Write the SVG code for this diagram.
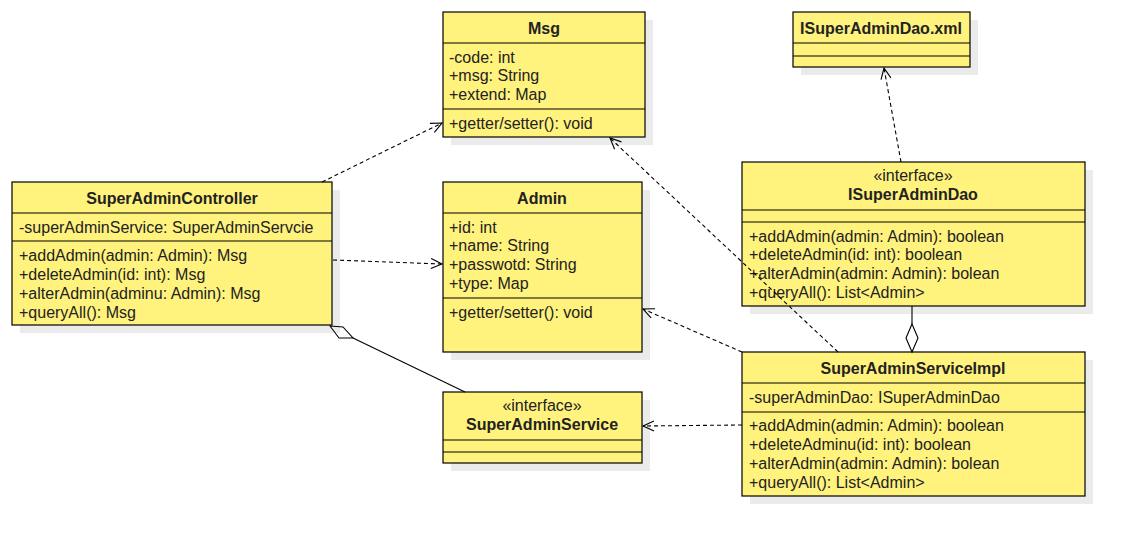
<svg xmlns="http://www.w3.org/2000/svg" width="1133" height="546" viewBox="0 0 1133 546">
<style>
.box{fill:#fff27d;stroke:#000;stroke-width:1.2}
.sh{fill:#ebebeb}
.ln{stroke:#000;stroke-width:1.2;fill:none}
.t{font-family:"Liberation Sans",Arial,sans-serif;font-size:16px;fill:#222}
.b{font-weight:bold;text-anchor:middle}
.c{text-anchor:middle}
.d{stroke:#000;stroke-width:1.1;fill:none;stroke-dasharray:4,3}
.s{stroke:#000;stroke-width:1.1;fill:none}
</style>
<defs>
<marker id="open" markerWidth="14" markerHeight="14" refX="12" refY="6" orient="auto" markerUnits="userSpaceOnUse">
<path d="M1,1 L12,6 L1,11" fill="none" stroke="#000" stroke-width="1.1"/>
</marker>
</defs>
<rect width="1133" height="546" fill="#fff"/>

<g id="SuperAdminController">
<rect class="sh" x="20" y="190" width="320" height="143"/>
<rect class="box" x="12" y="182" width="320" height="143"/>
<line class="ln" x1="12" y1="213" x2="332" y2="213"/>
<line class="ln" x1="12" y1="241" x2="332" y2="241"/>
<text class="t b" x="172" y="204">SuperAdminController</text>
<text class="t" x="19" y="233">-superAdminService: SuperAdminServcie</text>
<text class="t" x="19" y="261">+addAdmin(admin: Admin): Msg</text>
<text class="t" x="19" y="280">+deleteAdmin(id: int): Msg</text>
<text class="t" x="19" y="299">+alterAdmin(adminu: Admin): Msg</text>
<text class="t" x="19" y="318">+queryAll(): Msg</text>
</g>

<g id="Msg">
<rect class="sh" x="451" y="20" width="202" height="125"/>
<rect class="box" x="443" y="12" width="202" height="125"/>
<line class="ln" x1="443" y1="43" x2="645" y2="43"/>
<line class="ln" x1="443" y1="109" x2="645" y2="109"/>
<text class="t b" x="544" y="34">Msg</text>
<text class="t" x="449" y="63">-code: int</text>
<text class="t" x="449" y="81">+msg: String</text>
<text class="t" x="449" y="100">+extend: Map</text>
<text class="t" x="449" y="129">+getter/setter(): void</text>
</g>

<g id="Admin">
<rect class="sh" x="451" y="190" width="199" height="170"/>
<rect class="box" x="443" y="182" width="199" height="170"/>
<line class="ln" x1="443" y1="213" x2="642" y2="213"/>
<line class="ln" x1="443" y1="298" x2="642" y2="298"/>
<text class="t b" x="542" y="204">Admin</text>
<text class="t" x="449" y="233">+id: int</text>
<text class="t" x="449" y="251">+name: String</text>
<text class="t" x="449" y="270">+passwotd: String</text>
<text class="t" x="449" y="289">+type: Map</text>
<text class="t" x="449" y="318">+getter/setter(): void</text>
</g>

<g id="SuperAdminService">
<rect class="sh" x="451" y="400" width="199" height="71"/>
<rect class="box" x="443" y="392" width="199" height="71"/>
<line class="ln" x1="443" y1="440" x2="642" y2="440"/>
<line class="ln" x1="443" y1="452" x2="642" y2="452"/>
<text class="t c" x="542" y="411">«interface»</text>
<text class="t b" x="542" y="430">SuperAdminService</text>
</g>

<g id="ISuperAdminDaoXml">
<rect class="sh" x="801" y="20" width="177" height="55"/>
<rect class="box" x="793" y="12" width="177" height="55"/>
<line class="ln" x1="793" y1="43" x2="970" y2="43"/>
<line class="ln" x1="793" y1="56" x2="970" y2="56"/>
<text class="t b" x="881" y="34">ISuperAdminDao.xml</text>
</g>

<g id="ISuperAdminDao">
<rect class="sh" x="750" y="170" width="343" height="144"/>
<rect class="box" x="742" y="162" width="343" height="144"/>
<line class="ln" x1="742" y1="210" x2="1085" y2="210"/>
<line class="ln" x1="742" y1="222" x2="1085" y2="222"/>
<text class="t c" x="913" y="181">«interface»</text>
<text class="t b" x="913" y="200">ISuperAdminDao</text>
<text class="t" x="749" y="242">+addAdmin(admin: Admin): boolean</text>
<text class="t" x="749" y="260">+deleteAdmin(id: int): boolean</text>
<text class="t" x="749" y="279">+alterAdmin(admin: Admin): bolean</text>
<text class="t" x="749" y="298">+queryAll(): List&lt;Admin&gt;</text>
</g>

<g id="SuperAdminServiceImpl">
<rect class="sh" x="750" y="360" width="343" height="144"/>
<rect class="box" x="742" y="352" width="343" height="144"/>
<line class="ln" x1="742" y1="383" x2="1085" y2="383"/>
<line class="ln" x1="742" y1="412" x2="1085" y2="412"/>
<text class="t b" x="913" y="374">SuperAdminServiceImpl</text>
<text class="t" x="749" y="403">-superAdminDao: ISuperAdminDao</text>
<text class="t" x="749" y="431">+addAdmin(admin: Admin): boolean</text>
<text class="t" x="749" y="450">+deleteAdminu(id: int): boolean</text>
<text class="t" x="749" y="469">+alterAdmin(admin: Admin): bolean</text>
<text class="t" x="749" y="488">+queryAll(): List&lt;Admin&gt;</text>
</g>

<g id="connectors">
<line class="d" x1="322" y1="182" x2="442" y2="123" marker-end="url(#open)"/>
<line class="d" x1="333" y1="260" x2="442" y2="264" marker-end="url(#open)"/>
<path class="s" d="M330,326 L343,327 L353,338 L339,338 Z" fill="#fff"/>
<line class="s" x1="353" y1="338" x2="465" y2="392"/>
<line class="d" x1="901" y1="162" x2="884" y2="68" marker-end="url(#open)"/>
<line class="d" x1="838" y1="352" x2="610" y2="138" marker-end="url(#open)"/>
<line class="d" x1="742" y1="352" x2="643" y2="309" marker-end="url(#open)"/>
<line class="d" x1="742" y1="425" x2="643" y2="426" marker-end="url(#open)"/>
<line class="s" x1="912" y1="306" x2="912" y2="324"/>
<path class="s" d="M912,324 L918,338 L912,352 L906,338 Z" fill="#fff"/>
</g>
</svg>
